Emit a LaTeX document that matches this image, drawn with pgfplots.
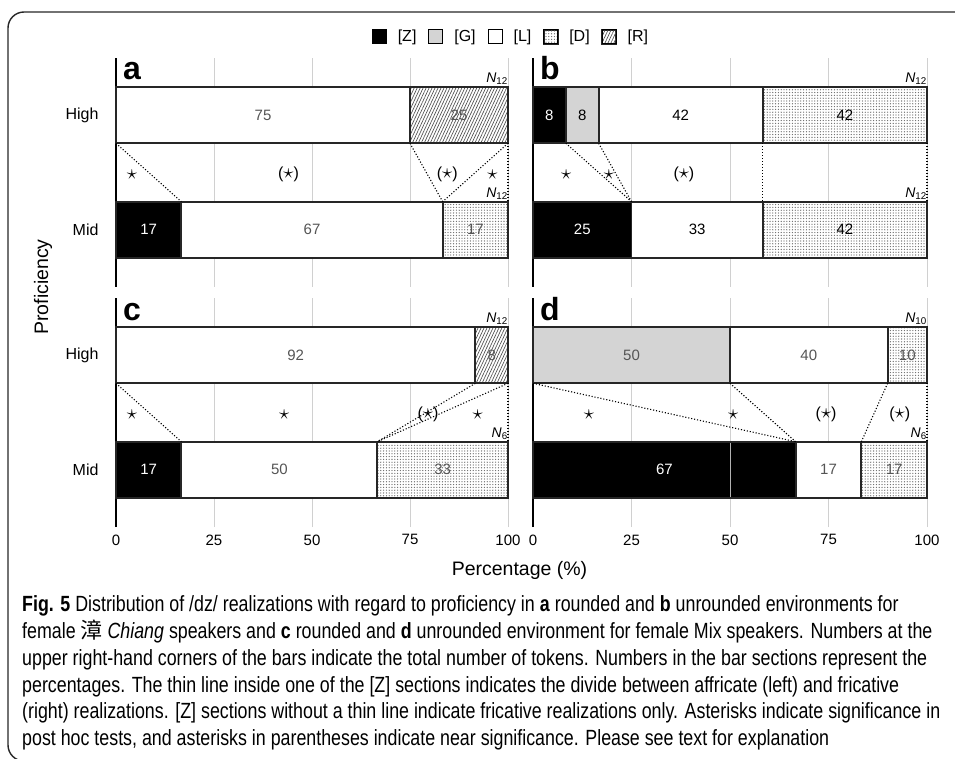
\documentclass[border=0pt]{standalone}
\usepackage{fontspec}
\setmainfont{Liberation Sans}
\newfontfamily\capfont[FakeStretch=0.81]{Liberation Sans}
\newfontfamily\cjk{Noto Sans CJK TC}
\usepackage{pgfplots}
\pgfplotsset{compat=1.18}
\usepackage{pgfplotstable}
\usetikzlibrary{patterns.meta}

\definecolor{gfill}{HTML}{D4D4D4}
\definecolor{gridc}{HTML}{D0D0D0}
\definecolor{labgray}{HTML}{555555}

% shares (%) of each realization; pos 0 = Mid, pos 1 = High
\pgfplotstableread{
pos Z G L D R
0 16.67 0 66.67 16.67 0
1 0 0 75 0 25
}\tabA
\pgfplotstableread{
pos Z G L D R
0 25 0 33.33 41.67 0
1 8.33 8.33 41.67 41.67 0
}\tabB
\pgfplotstableread{
pos Z G L D R
0 16.67 0 50 33.33 0
1 0 0 91.67 0 8.33
}\tabC
\pgfplotstableread{
pos Z G L D R
0 66.67 0 16.67 16.67 0
1 0 50 40 10 0
}\tabD

\newcommand\fs[1]{\fontsize{#1}{#1}\selectfont}
\newcommand\st{{\fs{22}$\star$}}

\tikzset{
  ast/.style={font=\fs{16}},
  plet/.style={anchor=base west, inner sep=0pt, xshift=7pt, yshift=-22pt, font=\bfseries\fs{32}},
  ntok/.style={anchor=south east, inner sep=0pt, yshift=2pt, font=\fs{14}},
}

\pgfplotsset{
  pbox/.style={scale only axis, height=229pt, anchor=north west,
    xmin=0, xmax=100, ymin=-0.5, ymax=1.5, clip=false},
  panel/.style={pbox,
    xbar stacked, bar width=0.49,
    xtick={0,25,50,75,100}, ytick={0,1}, yticklabels={Mid,High},
    xmajorgrids, grid style={gridc, line width=0.9pt},
    axis x line*=bottom, axis y line*=left,
    axis line style={-},
    x axis line style={draw=none},
    y axis line style={line width=2.4pt, black},
    major tick length=0pt, tick style={draw=none},
    /pgf/number format/assume math mode=true,
    xticklabel style={font=\fs{15}, yshift=-4pt},
    yticklabel style={font=\fs{16}, xshift=-14pt},
    point meta=explicit,
    nodes near coords={\pgfmathfloatifflags{\pgfplotspointmeta}{0}{}{\pgfmathprintnumber[fixed,precision=0]{\pgfplotspointmeta}}},
    every node near coord/.append style={font=\fs{15}, anchor=center, text=labgray},
  },
  seg/.style={draw=black!85, line width=1.8pt},
  Zs/.style={seg, fill=black, every node near coord/.append style={text=white}},
  Gs/.style={seg, fill=gfill},
  Ls/.style={seg, fill=white},
  Ds/.style={seg, preaction={fill=white},
    pattern={Dots[distance=2.8pt, radius=0.65pt]}, pattern color=black!60},
  Rs/.style={seg, preaction={fill=white},
    pattern={Lines[angle=65, distance=2.7pt, line width=0.65pt]}, pattern color=black!70},
  sqleg/.style={legend image code/.code={\draw[##1, line width=0.9pt, draw=black] (0pt,-7pt) rectangle (14pt,7pt);}},
  ovl/.style={pbox, hide axis},
  dotl/.style={black, line width=1.1pt, dash pattern=on 1.1pt off 1.9pt, no markers},
}

\begin{document}
\begin{tikzpicture}
\useasboundingbox (0pt,0pt) rectangle (955pt,-759pt);

% outer frame (open to the right and below)
\draw[line width=1.4pt, black!85, rounded corners=16pt]
  (955pt,-12pt) -- (8pt,-12pt) -- (8pt,-761pt) -- (955pt,-761pt);

% ---------- panel a ----------
\begin{axis}[panel, width=392pt, at={(116pt,-58pt)}, xticklabels={},
  legend columns=-1,
  legend style={draw=none, fill=none, at={(1.005,1.092)}, anchor=center,
    font=\fs{16}, inner sep=0pt, nodes={inner sep=0pt},
    /tikz/every odd column/.append style={column sep=11pt},
    /tikz/every even column/.append style={column sep=12pt}}]
\addplot[Zs, sqleg] table[x=Z, y=pos, meta=Z]{\tabA}; \addlegendentry{[Z]}
\addplot[Gs, sqleg] table[x=G, y=pos, meta=G]{\tabA}; \addlegendentry{[G]}
\addplot[Ls, sqleg] table[x=L, y=pos, meta=L]{\tabA}; \addlegendentry{[L]}
\addplot[Ds, sqleg] table[x=D, y=pos, meta=D]{\tabA}; \addlegendentry{[D]}
\addplot[Rs, sqleg] table[x=R, y=pos, meta=R]{\tabA}; \addlegendentry{[R]}
\end{axis}
\begin{axis}[ovl, width=392pt, at={(116pt,-58pt)}]
\addplot[dotl] coordinates {(0,0.755) (16.67,0.245)};
\addplot[dotl] coordinates {(75,0.755) (83.33,0.245)};
\addplot[dotl] coordinates {(100,0.755) (83.33,0.245)};
\addplot[dotl] coordinates {(100,0.755) (100,0.245)};
\node[ast] at (axis cs:4.1,0.48) {\st};
\node[ast] at (axis cs:44,0.48) {(\st)};
\node[ast] at (axis cs:84.5,0.48) {(\st)};
\node[ast] at (axis cs:96,0.48) {\st};
\node[plet] at (rel axis cs:0,1) {a};
\node[ntok] at (axis cs:100,1.245) {\textit{N}\textsubscript{12}};
\node[ntok] at (axis cs:100,0.245) {\textit{N}\textsubscript{12}};
\end{axis}

% ---------- panel b ----------
\begin{axis}[panel, width=394pt, at={(533pt,-58pt)}, xticklabels={}, yticklabels={},
  every node near coord/.append style={text=black}]
\addplot[Zs] table[x=Z, y=pos, meta=Z]{\tabB};
\addplot[Gs] table[x=G, y=pos, meta=G]{\tabB};
\addplot[Ls] table[x=L, y=pos, meta=L]{\tabB};
\addplot[Ds] table[x=D, y=pos, meta=D]{\tabB};
\addplot[Rs] table[x=R, y=pos, meta=R]{\tabB};
\end{axis}
\begin{axis}[ovl, width=394pt, at={(533pt,-58pt)}]
\addplot[dotl] coordinates {(8.33,0.755) (25,0.245)};
\addplot[dotl] coordinates {(16.67,0.755) (25,0.245)};
\addplot[dotl] coordinates {(58.33,0.755) (58.33,0.245)};
\addplot[dotl] coordinates {(100,0.755) (100,0.245)};
\node[ast] at (axis cs:8.4,0.48) {\st};
\node[ast] at (axis cs:19.3,0.48) {\st};
\node[ast] at (axis cs:38.3,0.48) {(\st)};
\node[plet] at (rel axis cs:0,1) {b};
\node[ntok] at (axis cs:100,1.245) {\textit{N}\textsubscript{12}};
\node[ntok] at (axis cs:100,0.245) {\textit{N}\textsubscript{12}};
\end{axis}

% ---------- panel c ----------
\begin{axis}[panel, width=392pt, at={(116pt,-298pt)}]
\addplot[Zs] table[x=Z, y=pos, meta=Z]{\tabC};
\addplot[Gs] table[x=G, y=pos, meta=G]{\tabC};
\addplot[Ls] table[x=L, y=pos, meta=L]{\tabC};
\addplot[Ds] table[x=D, y=pos, meta=D]{\tabC};
\addplot[Rs] table[x=R, y=pos, meta=R]{\tabC};
\end{axis}
\begin{axis}[ovl, width=392pt, at={(116pt,-298pt)}]
\addplot[dotl] coordinates {(0,0.755) (16.67,0.245)};
\addplot[dotl] coordinates {(91.67,0.755) (66.67,0.245)};
\addplot[dotl] coordinates {(100,0.755) (66.67,0.245)};
\addplot[dotl] coordinates {(100,0.755) (100,0.245)};
\node[ast] at (axis cs:4.1,0.48) {\st};
\node[ast] at (axis cs:42.9,0.48) {\st};
\node[ast] at (axis cs:79.6,0.48) {(\st)};
\node[ast] at (axis cs:92.3,0.48) {\st};
\node[plet] at (rel axis cs:0,1) {c};
\node[ntok] at (axis cs:100,1.245) {\textit{N}\textsubscript{12}};
\node[ntok] at (axis cs:100,0.245) {\textit{N}\textsubscript{6}};
\end{axis}

% ---------- panel d ----------
\begin{axis}[panel, width=394pt, at={(533pt,-298pt)}, yticklabels={}]
\addplot[Zs] table[x=Z, y=pos, meta=Z]{\tabD};
\addplot[Gs] table[x=G, y=pos, meta=G]{\tabD};
\addplot[Ls] table[x=L, y=pos, meta=L]{\tabD};
\addplot[Ds] table[x=D, y=pos, meta=D]{\tabD};
\addplot[Rs] table[x=R, y=pos, meta=R]{\tabD};
\end{axis}
\begin{axis}[ovl, width=394pt, at={(533pt,-298pt)}]
% affricate / fricative divide inside the [Z] section
\addplot[black!30, line width=0.8pt, no markers] coordinates {(50,-0.235) (50,0.235)};
\addplot[dotl] coordinates {(0,0.755) (66.67,0.245)};
\addplot[dotl] coordinates {(50,0.755) (66.67,0.245)};
\addplot[dotl] coordinates {(90,0.755) (83.33,0.245)};
\addplot[dotl] coordinates {(100,0.755) (100,0.245)};
\node[ast] at (axis cs:14.2,0.48) {\st};
\node[ast] at (axis cs:50.8,0.48) {\st};
\node[ast] at (axis cs:74.4,0.48) {(\st)};
\node[ast] at (axis cs:93.1,0.48) {(\st)};
\node[plet] at (rel axis cs:0,1) {d};
\node[ntok] at (axis cs:100,1.245) {\textit{N}\textsubscript{10}};
\node[ntok] at (axis cs:100,0.245) {\textit{N}\textsubscript{6}};
\end{axis}

% axis titles
\node[font=\fs{19.5}] at (519.5pt,-570pt) {Percentage (\%)};
\node[font=\fs{19.5}, rotate=90] at (43pt,-287pt) {Proficiency};

% caption
\begin{scope}[every node/.style={anchor=base west, inner sep=0pt, font=\capfont\fs{22}}]
\node at (22pt,-611pt) {\textbf{Fig. 5} Distribution of /dz/ realizations with regard to proficiency in \textbf{a} rounded and \textbf{b} unrounded environments for};
\node at (22pt,-638pt) {female {\cjk 漳} \textit{Chiang} speakers and \textbf{c} rounded and \textbf{d} unrounded environment for female Mix speakers. Numbers at the};
\node at (22pt,-665pt) {upper right-hand corners of the bars indicate the total number of tokens. Numbers in the bar sections represent the};
\node at (22pt,-692pt) {percentages. The thin line inside one of the [Z] sections indicates the divide between affricate (left) and fricative};
\node at (22pt,-718pt) {(right) realizations. [Z] sections without a thin line indicate fricative realizations only. Asterisks indicate significance in};
\node at (22pt,-745pt) {post hoc tests, and asterisks in parentheses indicate near significance. Please see text for explanation};
\end{scope}
\end{tikzpicture}
\end{document}
